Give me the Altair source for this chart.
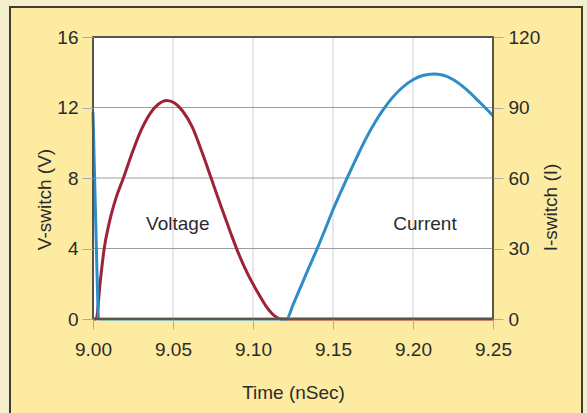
import altair as alt
import pandas as pd

# ---- data ----
v_time = [9.000, 9.002, 9.0045, 9.007, 9.010, 9.0145, 9.019, 9.024, 9.030, 9.036,
          9.041, 9.046, 9.051, 9.056, 9.062, 9.068, 9.0742, 9.080, 9.086, 9.0908,
          9.097, 9.103, 9.108, 9.112, 9.1156, 9.118, 9.250]
v_volt = [0.0, 0.0, 2.1, 4.0, 5.4, 6.9, 8.0, 9.3, 10.7, 11.7,
          12.2, 12.4, 12.25, 11.8, 10.9, 9.5, 7.9, 6.4, 4.9, 3.75,
          2.5, 1.5, 0.75, 0.3, 0.05, 0.0, 0.0]

i_time = [9.000, 9.001, 9.0025, 9.0035, 9.121, 9.125, 9.130, 9.135, 9.1398, 9.145,
          9.150, 9.1585, 9.165, 9.170, 9.176, 9.1815, 9.187, 9.193, 9.200, 9.206,
          9.2127, 9.219, 9.225, 9.2335, 9.242, 9.250]
i_amp = [88, 60, 20, 0, 0, 6.0, 14.0, 22, 29.4, 38,
         46.5, 59.5, 69, 76, 83.4, 89.2, 94.1, 98.3, 101.8, 103.6,
         104.3, 103.7, 101.9, 97.6, 92, 86.5]

x_ticks = [9.00, 9.05, 9.10, 9.15, 9.20, 9.25]
v_ticks = [0, 4, 8, 12, 16]
i_ticks = [0, 30, 60, 90, 120]
x_grid = [9.05, 9.10, 9.15, 9.20]
v_grid = [4, 8, 12]

labels = ["Voltage", "Current"]
label_t = [9.053, 9.2075]
label_v = [5.4, 5.4]

FONT = "Liberation Sans"
FS = 19
TXT = "#2b2b2b"
RED = "#9e2238"
BLUE = "#2d8dc6"

xs = alt.Scale(domain=[9.0, 9.25], nice=False, zero=False)
vs = alt.Scale(domain=[0, 16], nice=False)
ist = alt.Scale(domain=[0, 120], nice=False)

vdf = pd.DataFrame({"t": v_time, "v": v_volt})
idf = pd.DataFrame({"t": i_time, "i": i_amp})
xg = pd.DataFrame({"t": x_grid})
vg = pd.DataFrame({"v": v_grid})
lab = pd.DataFrame({"label": labels, "t": label_t, "v": label_v})

common = dict(grid=False, tickColor="#aaaaaa", domain=False, zindex=2, labelFlush=False,
              labelFont=FONT, titleFont=FONT, labelFontSize=FS, titleFontSize=FS,
              labelColor=TXT, titleColor=TXT, titleFontWeight="normal",
              titleBaseline="middle", titleAlign="center")

xaxis = alt.Axis(values=x_ticks, format=".2f", title="Time (nSec)",
                 tickSize=10, labelPadding=11, titleX=200, titleY=73, **common)

frame = alt.Chart(pd.DataFrame({"a": [0]})).mark_rect(
    fill="#fdeba2", stroke="#3d3d33", strokeWidth=2
).encode(x=alt.value(-83), x2=alt.value(489), y=alt.value(-30), y2=alt.value(400))

plotbg = alt.Chart(pd.DataFrame({"a": [0]})).mark_rect(fill="white").encode(
    x=alt.value(0), x2=alt.value(400), y=alt.value(0), y2=alt.value(282))

vgrid = alt.Chart(xg).mark_rule(color="#cfcfcf", strokeWidth=1).encode(
    x=alt.X("t:Q", scale=xs, axis=xaxis), y=alt.value(0), y2=alt.value(282))

hgrid = alt.Chart(vg).mark_rule(color="#9d9d9d", strokeWidth=1).encode(
    y=alt.Y("v:Q", scale=vs,
            axis=alt.Axis(values=v_ticks, title="V-switch (V)",
                          tickSize=11, labelPadding=4, titleAngle=270,
                          titleX=-49, titleY=162, **common)),
    x=alt.value(0), x2=alt.value(400))

vline = alt.Chart(vdf).mark_line(color=RED, strokeWidth=3, interpolate="monotone").encode(
    x=alt.X("t:Q", scale=xs), y=alt.Y("v:Q", scale=vs))

text = alt.Chart(lab).mark_text(font=FONT, fontSize=FS, color=TXT).encode(
    x=alt.X("t:Q", scale=xs), y=alt.Y("v:Q", scale=vs), text="label:N")

left = alt.layer(frame, plotbg, vgrid, hgrid, vline, text)

iline = alt.Chart(idf).mark_line(color=BLUE, strokeWidth=3, interpolate="monotone").encode(
    x=alt.X("t:Q", scale=xs),
    y=alt.Y("i:Q", scale=ist,
            axis=alt.Axis(orient="right", values=i_ticks, title="I-switch (I)",
                          tickSize=10, labelPadding=5, titleAngle=270,
                          titleX=57, titleY=170, **common)))

border = alt.Chart(pd.DataFrame({"a": [0]})).mark_rect(
    fillOpacity=0, stroke="#5a5548", strokeWidth=2
).encode(x=alt.value(0), x2=alt.value(400), y=alt.value(0), y2=alt.value(282))

chart = alt.layer(left, iline, border).resolve_scale(y="independent").properties(
    width=400, height=282,
    autosize=alt.AutoSizeParams(type="none"),
    padding={"left": 93, "top": 37, "right": 94, "bottom": 94},
    background="#f4efcc",
).configure_view(stroke=None)

chart.save("out.html", embed_options={"renderer": "svg", "actions": False})
